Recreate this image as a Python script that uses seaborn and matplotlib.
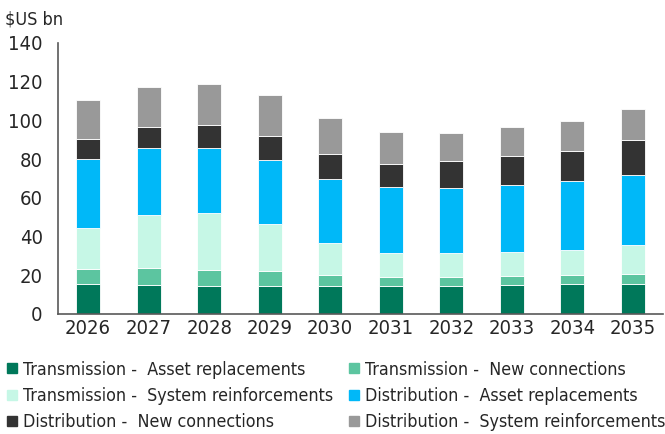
import numpy as np
import pandas as pd
import seaborn as sns
import matplotlib
matplotlib.use('Agg')
import matplotlib.pyplot as plt
import matplotlib.patches as mpatches

years = ['2026', '2027', '2028', '2029', '2030', '2031', '2032', '2033', '2034', '2035']

# $US bn (bottom to top)
trans_asset = [15.3, 14.8, 14.4, 14.4, 14.4, 14.3, 14.5, 14.9, 15.4, 15.6]
trans_new = [7.9, 8.8, 8.3, 7.6, 5.9, 4.5, 4.7, 4.7, 4.9, 4.9]
trans_system = [21.1, 27.6, 29.5, 24.2, 16.1, 12.8, 12.1, 12.4, 12.9, 15.3]
dist_asset = [35.9, 34.6, 33.6, 33.3, 33.3, 33.7, 33.8, 34.8, 35.4, 36.1]
dist_new = [10.4, 11.0, 12.0, 12.5, 12.8, 12.3, 13.7, 15.0, 15.4, 18.0]
dist_system = [20.0, 20.4, 20.8, 21.1, 18.6, 16.6, 14.6, 14.8, 15.6, 15.9]

series = ['Transmission -  Asset replacements', 'Transmission -  New connections',
          'Transmission -  System reinforcements', 'Distribution -  Asset replacements',
          'Distribution -  New connections', 'Distribution -  System reinforcements']
colors = ['#00785A', '#5CC5A0', '#C6F7E6', '#00B8F8', '#333333', '#999999']

values = [trans_asset, trans_new, trans_system, dist_asset, dist_new, dist_system]
df = pd.DataFrame({s: v for s, v in zip(series, values)}, index=years)

sns.set_style('white')
plt.rcParams['font.family'] = ['DejaVu Sans']
plt.rcParams['font.stretch'] = 'condensed'

fig = plt.figure(figsize=(6.65, 4.34), dpi=100)
ax = fig.add_axes([0.087, 0.277, 0.91, 0.624])

bottom = np.zeros(len(years))
for s, c in zip(series, colors):
    sns.barplot(x=years, y=df[s].values, bottom=bottom, color=c, saturation=1, width=0.4,
                edgecolor='white', linewidth=0.6, ax=ax)
    bottom += df[s].values

ax.set_ylim(0, 140)
ax.set_xlim(-0.5, 9.5)
ax.set_yticks(np.arange(0, 141, 20))
ax.tick_params(axis='both', labelsize=14.5, length=0)
ax.tick_params(axis='y', pad=11)
ax.tick_params(axis='x', pad=4)
for sp in ['top', 'right']:
    ax.spines[sp].set_visible(False)
for sp in ['left', 'bottom']:
    ax.spines[sp].set_color('#595959')
    ax.spines[sp].set_linewidth(1.2)

fig.text(0.008, 0.955, '$US bn', fontsize=13, va='center', ha='left')

# legend reads row by row in the reference; matplotlib fills columns first
handles = [mpatches.Patch(color=c, label=s) for s, c in zip(series, colors)]
order = [0, 2, 4, 1, 3, 5]
fig.legend(handles=[handles[i] for i in order], loc='upper left',
           bbox_to_anchor=(0.0105, 0.169), ncol=2, frameon=False, fontsize=12.8,
           handlelength=0.55, handleheight=0.5, handletextpad=0.35,
           columnspacing=0.9, labelspacing=0.47, borderpad=0, borderaxespad=0)

fig.savefig('out.png', dpi=100)
